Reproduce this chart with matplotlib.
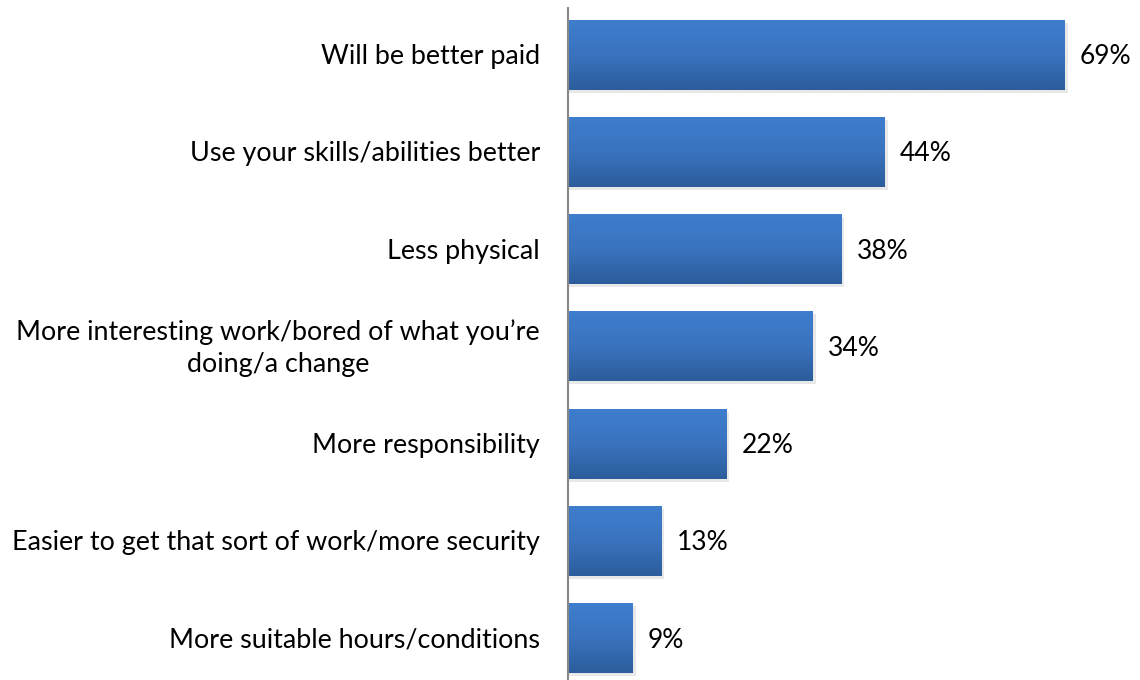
import matplotlib.pyplot as plt
import numpy as np
from matplotlib.colors import LinearSegmentedColormap
from matplotlib.patches import Rectangle

labels = [
    "Will be better paid",
    "Use your skills/abilities better",
    "Less physical",
    "More interesting work/bored of what you\u2019re\ndoing/a change",
    "More responsibility",
    "Easier to get that sort of work/more security",
    "More suitable hours/conditions",
]
values = [69, 44, 38, 34, 22, 13, 9]

plt.rcParams["font.family"] = ["Lato", "DejaVu Sans"]

W, H = 1140, 680
fig = plt.figure(figsize=(W / 100, H / 100), dpi=100)
ax_left = 568 / W
ax = fig.add_axes([ax_left, 0, 1 - ax_left, 672 / H])
px_per_pct = 7.2

grad = LinearSegmentedColormap.from_list("bar", ["#3e7ecd", "#3a73bf", "#2c5d9c"])
bar_h = 0.72
for i, v in enumerate(values):
    y0 = i - bar_h / 2
    # soft shadow
    ax.add_patch(Rectangle((0.2, y0 + 0.03), v + 0.2, bar_h, facecolor="#000000",
                           alpha=0.09, edgecolor="none", zorder=1))
    bar = Rectangle((0, y0), v, bar_h, facecolor="none", edgecolor="none", zorder=2)
    ax.add_patch(bar)
    img = ax.imshow(np.linspace(0, 1, 64).reshape(-1, 1), cmap=grad, aspect="auto",
                    extent=(0, v, y0 + bar_h, y0), zorder=2, interpolation="bilinear")
    img.set_clip_path(bar)
    ax.text(v + 15 / px_per_pct, i + 0.02, f"{v}%", va="center", ha="left", fontsize=19,
            color="#000000")
    ax.text(-28 / px_per_pct, i + 0.02, labels[i], va="center", ha="right", fontsize=19.4,
            multialignment="center", linespacing=1.35, color="#000000", clip_on=False)

ax.set_xlim(0, (W - 568) / px_per_pct)
ax.set_ylim(len(values) - 0.57, -0.48)
for s in ["top", "right", "bottom"]:
    ax.spines[s].set_visible(False)
ax.spines["left"].set_color("#888888")
ax.spines["left"].set_linewidth(1.5)
ax.set_xticks([])
ax.set_yticks([])
ax.patch.set_alpha(0)

fig.savefig("out.png", dpi=100)
